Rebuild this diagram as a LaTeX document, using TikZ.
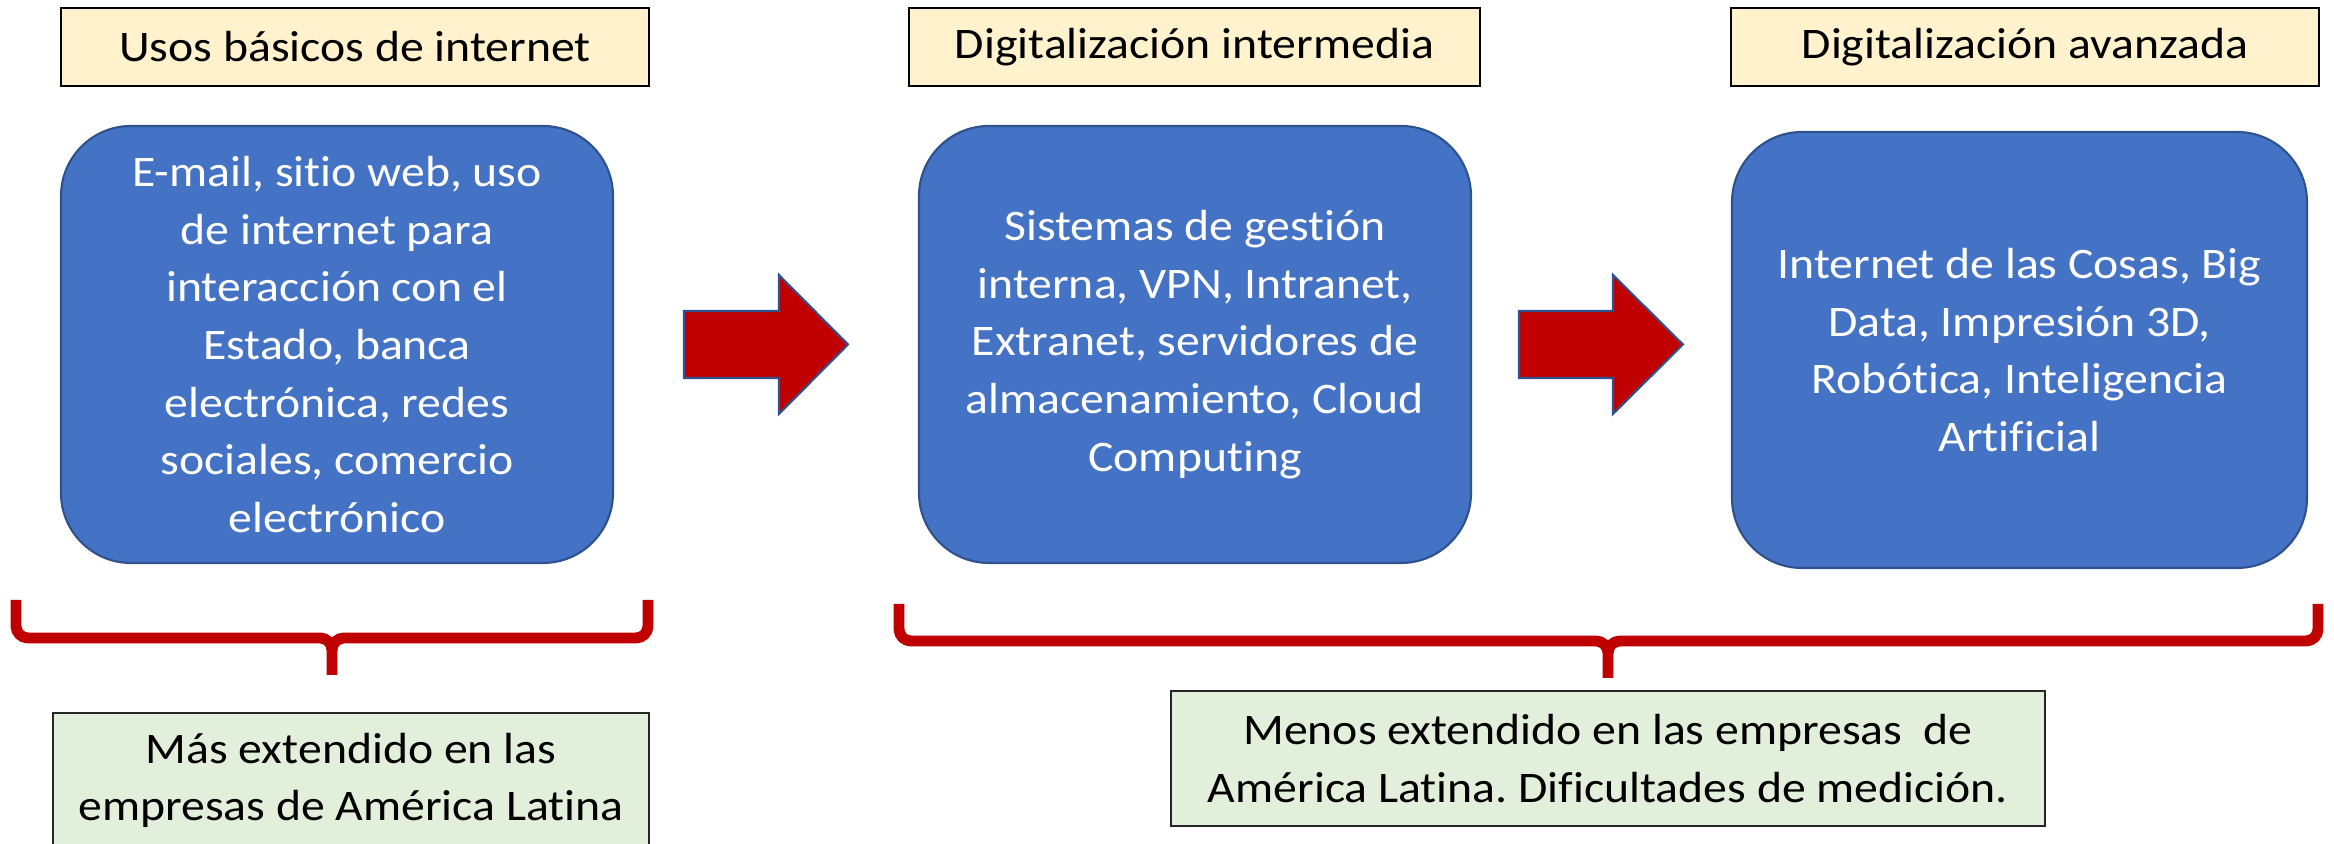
\documentclass[tikz,border=0pt]{standalone}
\usepackage{fontspec}
\setmainfont{Carlito}[FakeStretch=1.095,Ligatures=NoCommon]
\usepackage{tikz}
\frenchspacing

\definecolor{titlefill}{HTML}{FFF2CC}
\definecolor{boxblue}{HTML}{4472C4}
\definecolor{boxedge}{HTML}{2F528F}
\definecolor{arrowred}{HTML}{C00000}
\definecolor{notefill}{HTML}{E2EFDA}

\begin{document}
\begin{tikzpicture}[
        titlebox/.style={shape=rectangle,draw=black,line width=0.6pt,fill=titlefill,minimum height=0.78cm,inner sep=0pt,font=\fontsize{12.4}{16.4}\selectfont},
        stagebox/.style={shape=rectangle,rounded corners=0.7cm,draw=boxedge,line width=0.6pt,fill=boxblue,text=white,align=center,inner sep=0pt,font=\fontsize{12.4}{16.4}\selectfont},
        notebox/.style={shape=rectangle,draw=black!85,line width=0.6pt,fill=notefill,minimum height=1.35cm,align=center,inner sep=0pt,font=\fontsize{12.4}{16.4}\selectfont},
        bigarrow/.style={draw=boxedge,line width=0.6pt,fill=arrowred,line join=miter},
        bracket/.style={draw=arrowred,line width=3.1pt,line join=round}
    ]
        \useasboundingbox (0,0) rectangle (23.34,8.44);

        % titles
        \node[titlebox,minimum width=5.88cm] (T1) at (3.55,7.97) {Usos básicos de internet};
        \node[titlebox,minimum width=5.71cm] (T2) at (11.945,7.97) {Digitalización intermedia};
        \node[titlebox,minimum width=5.88cm] (T3) at (20.25,7.97) {Digitalización avanzada};

        % stages
        \node[stagebox,minimum width=5.52cm,minimum height=4.37cm] (B1) at (3.37,4.995) {E-mail, sitio web, uso\\de internet para\\interacción con el\\Estado, banca\\electrónica, redes\\sociales, comercio\\electrónico};
        \node[stagebox,minimum width=5.52cm,minimum height=4.37cm] (B2) at (11.95,4.995) {Sistemas de gestión\\interna, VPN, Intranet,\\Extranet, servidores de\\almacenamiento, Cloud\\Computing};
        \node[stagebox,minimum width=5.75cm,minimum height=4.36cm] (B3) at (20.195,4.94) {Internet de las Cosas, Big\\Data, Impresión 3D,\\Robótica, Inteligencia\\Artificial};

        % arrows between the stages
        \coordinate (A1) at (6.84,4.995);
        \coordinate (A2) at (15.19,4.995);
        \draw[bigarrow] (A1) ++(0,0.335) -- ++(0.95,0) -- ++(0,0.36) -- ++(0.69,-0.695) -- ++(-0.69,-0.695) -- ++(0,0.36) -- ++(-0.95,0) -- cycle;
        \draw[bigarrow] (A2) ++(0,0.335) -- ++(0.94,0) -- ++(0,0.36) -- ++(0.70,-0.695) -- ++(-0.70,-0.695) -- ++(0,0.36) -- ++(-0.94,0) -- cycle;

        % braces
        \draw[bracket] (0.16,2.44) -- (0.16,2.18) to[out=-90,in=180] (0.28,2.06) -- (3.20,2.06) to[out=0,in=90] (3.32,1.94) -- (3.32,1.69);
        \draw[bracket] (6.48,2.44) -- (6.48,2.18) to[out=-90,in=0] (6.36,2.06) -- (3.44,2.06) to[out=180,in=90] (3.32,1.94);
        \draw[bracket] (8.99,2.40) -- (8.99,2.15) to[out=-90,in=180] (9.11,2.03) -- (15.96,2.03) to[out=0,in=90] (16.08,1.91) -- (16.08,1.66);
        \draw[bracket] (23.18,2.40) -- (23.18,2.15) to[out=-90,in=0] (23.06,2.03) -- (16.20,2.03) to[out=180,in=90] (16.08,1.91);

        % notes
        \node[notebox,minimum width=5.96cm] (G1) at (3.51,0.635) {Más extendido en las\\empresas de América Latina};
        \node[notebox,minimum width=8.74cm] (G2) at (16.08,0.855) {Menos extendido en las empresas~ de\\América Latina. Dificultades de medición.};
    \end{tikzpicture}
\end{document}
